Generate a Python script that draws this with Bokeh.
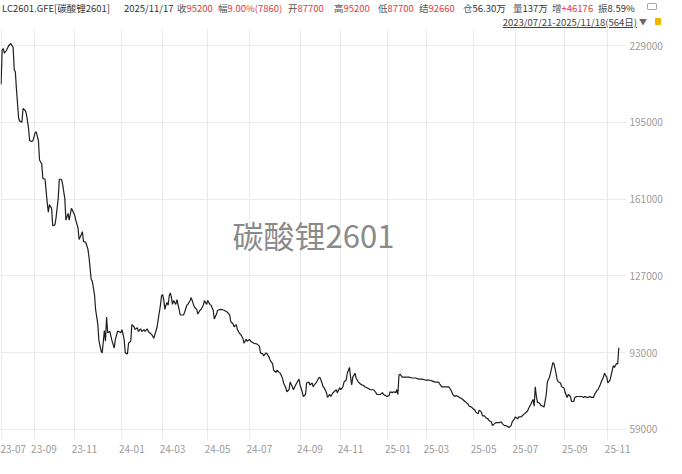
from bokeh.plotting import figure
from bokeh.models import FixedTicker, Range1d, Label, NumeralTickFormatter, Div
from bokeh.layouts import column
from bokeh.embed import file_html
from bokeh.resources import INLINE

# ---------------- data ----------------
day_idx = [
    0, 1, 2, 3, 5, 7, 9, 11, 12, 13,
    14, 16, 17, 19, 20, 22, 23, 25, 26, 28,
    29, 31, 32, 34, 35, 37, 38, 40, 42, 43,
    44, 46, 47, 49, 50, 52, 53, 55, 56, 58,
    59, 61, 62, 64, 65, 67, 68, 70, 71, 73,
    74, 75, 77, 79, 80, 82, 83, 85, 86, 88,
    89, 91, 92, 94, 95, 96, 97, 99, 100, 101,
    103, 104, 106, 107, 109, 110, 112, 113, 115, 116,
    118, 119, 121, 122, 124, 125, 127, 128, 130, 131,
    133, 134, 136, 137, 139, 140, 142, 143, 145, 146,
    147, 148, 149, 150, 151, 152, 153, 154, 155, 156,
    157, 159, 160, 162, 163, 164, 166, 167, 169, 170,
    172, 173, 175, 176, 178, 179, 181, 182, 184, 185,
    187, 188, 190, 191, 193, 194, 196, 197, 200, 203,
    206, 208, 209, 211, 212, 214, 215, 217, 218, 220,
    221, 223, 224, 226, 227, 230, 233, 235, 236, 238,
    239, 241, 242, 244, 245, 247, 248, 250, 251, 253,
    254, 256, 257, 259, 260, 262, 263, 265, 266, 268,
    269, 271, 272, 274, 275, 277, 278, 280, 281, 283,
    284, 285, 287, 289, 290, 292, 293, 294, 296, 297,
    299, 300, 302, 303, 305, 306, 308, 309, 311, 312,
    314, 315, 317, 318, 319, 320, 322, 323, 325, 326,
    328, 329, 331, 333, 336, 339, 341, 342, 345, 347,
    348, 350, 351, 353, 354, 356, 357, 359, 360, 361,
    362, 363, 365, 368, 371, 374, 377, 380, 383, 386,
    389, 392, 395, 398, 399, 401, 404, 407, 408, 410,
    411, 413, 414, 416, 417, 419, 420, 422, 423, 425,
    426, 428, 429, 431, 432, 434, 435, 437, 438, 440,
    441, 443, 444, 446, 447, 449, 450, 452, 453, 455,
    456, 458, 459, 461, 462, 464, 465, 467, 468, 470,
    471, 473, 474, 476, 477, 479, 480, 482, 483, 484,
    485, 486, 487, 488, 490, 491, 493, 494, 496, 497,
    499, 500, 502, 503, 504, 506, 507, 509, 510, 512,
    513, 515, 516, 518, 519, 521, 522, 524, 525, 527,
    528, 530, 531, 533, 534, 536, 537, 539, 540, 542,
    543, 545, 546, 548, 549, 551, 552, 554, 555, 557,
    558, 560, 561, 562,
]
close = [
    211800, 226900, 227700, 225600, 226900, 229000, 229900, 228100, 218300, 217400,
    209700, 196800, 195500, 195100, 201100, 200200, 198900, 192500, 186900, 186500,
    186900, 190400, 190800, 186900, 178300, 176600, 170200, 169800, 159500, 155200,
    158600, 156900, 149200, 149600, 152600, 161200, 169800, 169800, 167600, 161200,
    151700, 154700, 151700, 156900, 156000, 153900, 151700, 148300, 143100, 145300,
    146600, 142300, 141900, 138900, 135400, 125500, 124700, 118700, 112200, 105800,
    98500, 93800, 92900, 102800, 98100, 108800, 101900, 102400, 100200, 98100,
    95100, 98900, 102400, 102400, 101900, 103200, 98900, 92900, 92500, 97200,
    98100, 105400, 104500, 103200, 104100, 102400, 103600, 102400, 103200, 102400,
    103600, 102400, 101500, 101100, 99400, 101100, 104500, 107900, 114000, 118200,
    118700, 116500, 112200, 114000, 115200, 114000, 118200, 119500, 117400, 114400,
    116100, 114400, 116500, 112200, 109700, 109700, 109700, 110900, 114000, 114400,
    116100, 117400, 114400, 113100, 112200, 110100, 111800, 112200, 114000, 116100,
    114400, 116100, 114400, 114000, 111800, 107900, 110100, 111800, 112200, 111800,
    110900, 109700, 106700, 105800, 104500, 105400, 103200, 101500, 101100, 99400,
    97200, 98900, 98100, 98900, 98100, 97200, 96800, 95900, 92900, 92500,
    91600, 92900, 92500, 90800, 89500, 88200, 85200, 84300, 85200, 84300,
    83900, 81800, 79600, 77500, 75700, 76600, 80000, 77900, 76600, 78700,
    79600, 81300, 78700, 75700, 73600, 74500, 79600, 80000, 78700, 79600,
    77900, 78700, 80000, 81800, 82200, 79600, 77900, 77500, 75300, 73200,
    74500, 73600, 75300, 75700, 76600, 75300, 77500, 76600, 77900, 80000,
    80900, 83900, 86500, 82200, 78700, 82200, 83900, 81800, 80000, 79600,
    78700, 78700, 77900, 77500, 76600, 76600, 75300, 74500, 74500, 75300,
    74500, 74000, 73600, 74000, 75700, 75300, 75700, 75300, 76600, 74500,
    83000, 83500, 82200, 82200, 82200, 81800, 81800, 81300, 81300, 80900,
    80900, 80500, 80000, 80000, 79200, 77900, 77900, 77900, 77500, 75700,
    74500, 73600, 74000, 73600, 73200, 72700, 72300, 71400, 71000, 70200,
    69300, 68900, 68400, 67600, 66700, 65900, 67600, 66700, 65000, 65000,
    64200, 63700, 62900, 62400, 60700, 61600, 62000, 62000, 62000, 62400,
    61600, 60700, 60700, 60300, 59900, 60700, 62400, 63700, 64600, 63700,
    64600, 64600, 65000, 65900, 66300, 67200, 68400, 70200, 71400, 72300,
    69300, 77900, 73600, 71000, 70600, 69700, 69300, 68900, 74500, 80000,
    82200, 84300, 88600, 88200, 86000, 80900, 80000, 79600, 77900, 77500,
    75700, 73200, 74500, 73600, 71400, 71400, 73200, 73600, 73600, 73600,
    73600, 73200, 73600, 73200, 73200, 73600, 73200, 73200, 74500, 76200,
    76600, 78700, 80000, 82200, 83900, 82200, 79600, 80900, 83000, 87300,
    86500, 88200, 88000, 95200,
]
assert len(day_idx) == len(close)

month_labels = ["23-07", "23-09", "23-11", "24-01", "24-03", "24-05", "24-07", "24-09",
                "24-11", "25-01", "25-03", "25-05", "25-07", "25-09", "25-11"]
month_start_idx = [0, 30, 67, 110, 147, 188, 226, 272, 309, 352, 387, 430, 468, 513, 552]
y_ticks = [59000, 93000, 127000, 161000, 195000, 229000]

header_name = "LC2601.GFE[碳酸锂2601]"
header_date = "2025/11/17"
quote_labels = ["收", "幅", "开", "高", "低", "结", "仓", "量", "增", "振"]
quote_values = ["95200", "9.00%(7860)", "87700", "95200", "87700", "92660",
                "56.30万", "137万", "+46176", "8.59%"]
quote_up = [True, True, True, True, True, True, False, False, True, False]
date_range_text = "2023/07/21-2025/11/18(564日)"
watermark_text = "碳酸锂2601"

# ---------------- layout / style ----------------
FONT = "Noto Sans CJK SC"
W = 666
HEAD_H = 28
FW, FH = 626, 411
NAME_X, DATE_X = 2, 124
quote_x = [177, 218, 288, 334, 378, 419, 463, 513, 552, 598]
C_TEXT, C_LABEL, C_UP = "#333333", "#555555", "#e23b35"
LABEL_SHIFT = 9
X0, X1 = -0.5, 569.0
Y0, Y1 = 54570, 236530

# ---------------- header (HTML) ----------------
S = "position:absolute;top:2px;"
spans = [f'<span style="{S}left:{NAME_X}px;color:{C_TEXT};">{header_name}</span>',
         f'<span style="{S}left:{DATE_X}px;color:{C_TEXT};">{header_date}</span>']
for qx, lab, val, up in zip(quote_x, quote_labels, quote_values, quote_up):
    spans.append(f'<span style="{S}left:{qx}px;"><span style="color:{C_LABEL};">{lab}</span>'
                 f'<span style="color:{C_UP if up else C_TEXT};">{val}</span></span>')
spans.append(f'<span style="position:absolute;right:{W - 637}px;top:16px;color:#444444;'
             f'text-decoration:underline;text-underline-offset:1px;">{date_range_text}</span>')
spans.append('<span style="position:absolute;left:639px;top:16px;color:#666666;font-size:8px;">▼</span>')
spans.append('<span style="position:absolute;left:647px;top:3px;width:10px;height:7px;'
             'border:1px solid #aaaaaa;border-radius:1px;"></span>')
spans.append('<span style="position:absolute;left:655px;top:18px;width:6px;height:7px;'
             'background:#f3b600;"></span>')
html = (f'<div style="position:relative;width:{W}px;height:{HEAD_H}px;font-family:\'{FONT}\';'
        f'font-size:9.5px;line-height:12px;white-space:nowrap;background:white;">'
        + "".join(spans) + '</div>')
header = Div(text=html, width=W, height=HEAD_H, margin=(0, 0, 0, 0))

# ---------------- main chart ----------------
p = figure(frame_width=FW, frame_height=FH, x_range=Range1d(X0, X1), y_range=Range1d(Y0, Y1),
           y_axis_location="right", output_backend="svg", toolbar_location=None,
           min_border_left=0, min_border_right=0, min_border_top=0, min_border_bottom=0,
           outline_line_color=None, margin=(0, 0, 0, 0))
p.background_fill_color = "white"
p.border_fill_color = "white"

p.line(day_idx, close, line_color="#1e1e1e", line_width=1.2)

p.yaxis.ticker = FixedTicker(ticks=y_ticks)
p.yaxis.formatter = NumeralTickFormatter(format="0")
label_ticks = [m + LABEL_SHIFT for m in month_start_idx]
p.xaxis.ticker = FixedTicker(ticks=label_ticks)
p.xaxis.major_label_overrides = {t: lab for t, lab in zip(label_ticks, month_labels)}

for ax in (p.xaxis, p.yaxis):
    ax.axis_line_color = None
    ax.major_tick_line_color = None
    ax.minor_tick_line_color = None
    ax.major_tick_out = 0
    ax.major_tick_in = 0
    ax.major_label_text_color = "#9a9a9a"
    ax.major_label_text_font = FONT
    ax.major_label_text_font_size = "10px"
p.yaxis.major_label_standoff = 3
p.xaxis.major_label_standoff = 5

p.xgrid.ticker = FixedTicker(ticks=month_start_idx)
p.ygrid.ticker = FixedTicker(ticks=y_ticks)
p.grid.grid_line_color = "#ebebeb"
p.grid.grid_line_width = 1

p.add_layout(Label(x=(X0 + X1) / 2, y=(Y0 + Y1) / 2, text=watermark_text,
                   text_align="center", text_baseline="middle", text_font=FONT,
                   text_font_size="31px", text_color="#8a8a8a"))

layout = column(header, p, spacing=0)
open("out.html", "w").write(file_html(layout, INLINE))
